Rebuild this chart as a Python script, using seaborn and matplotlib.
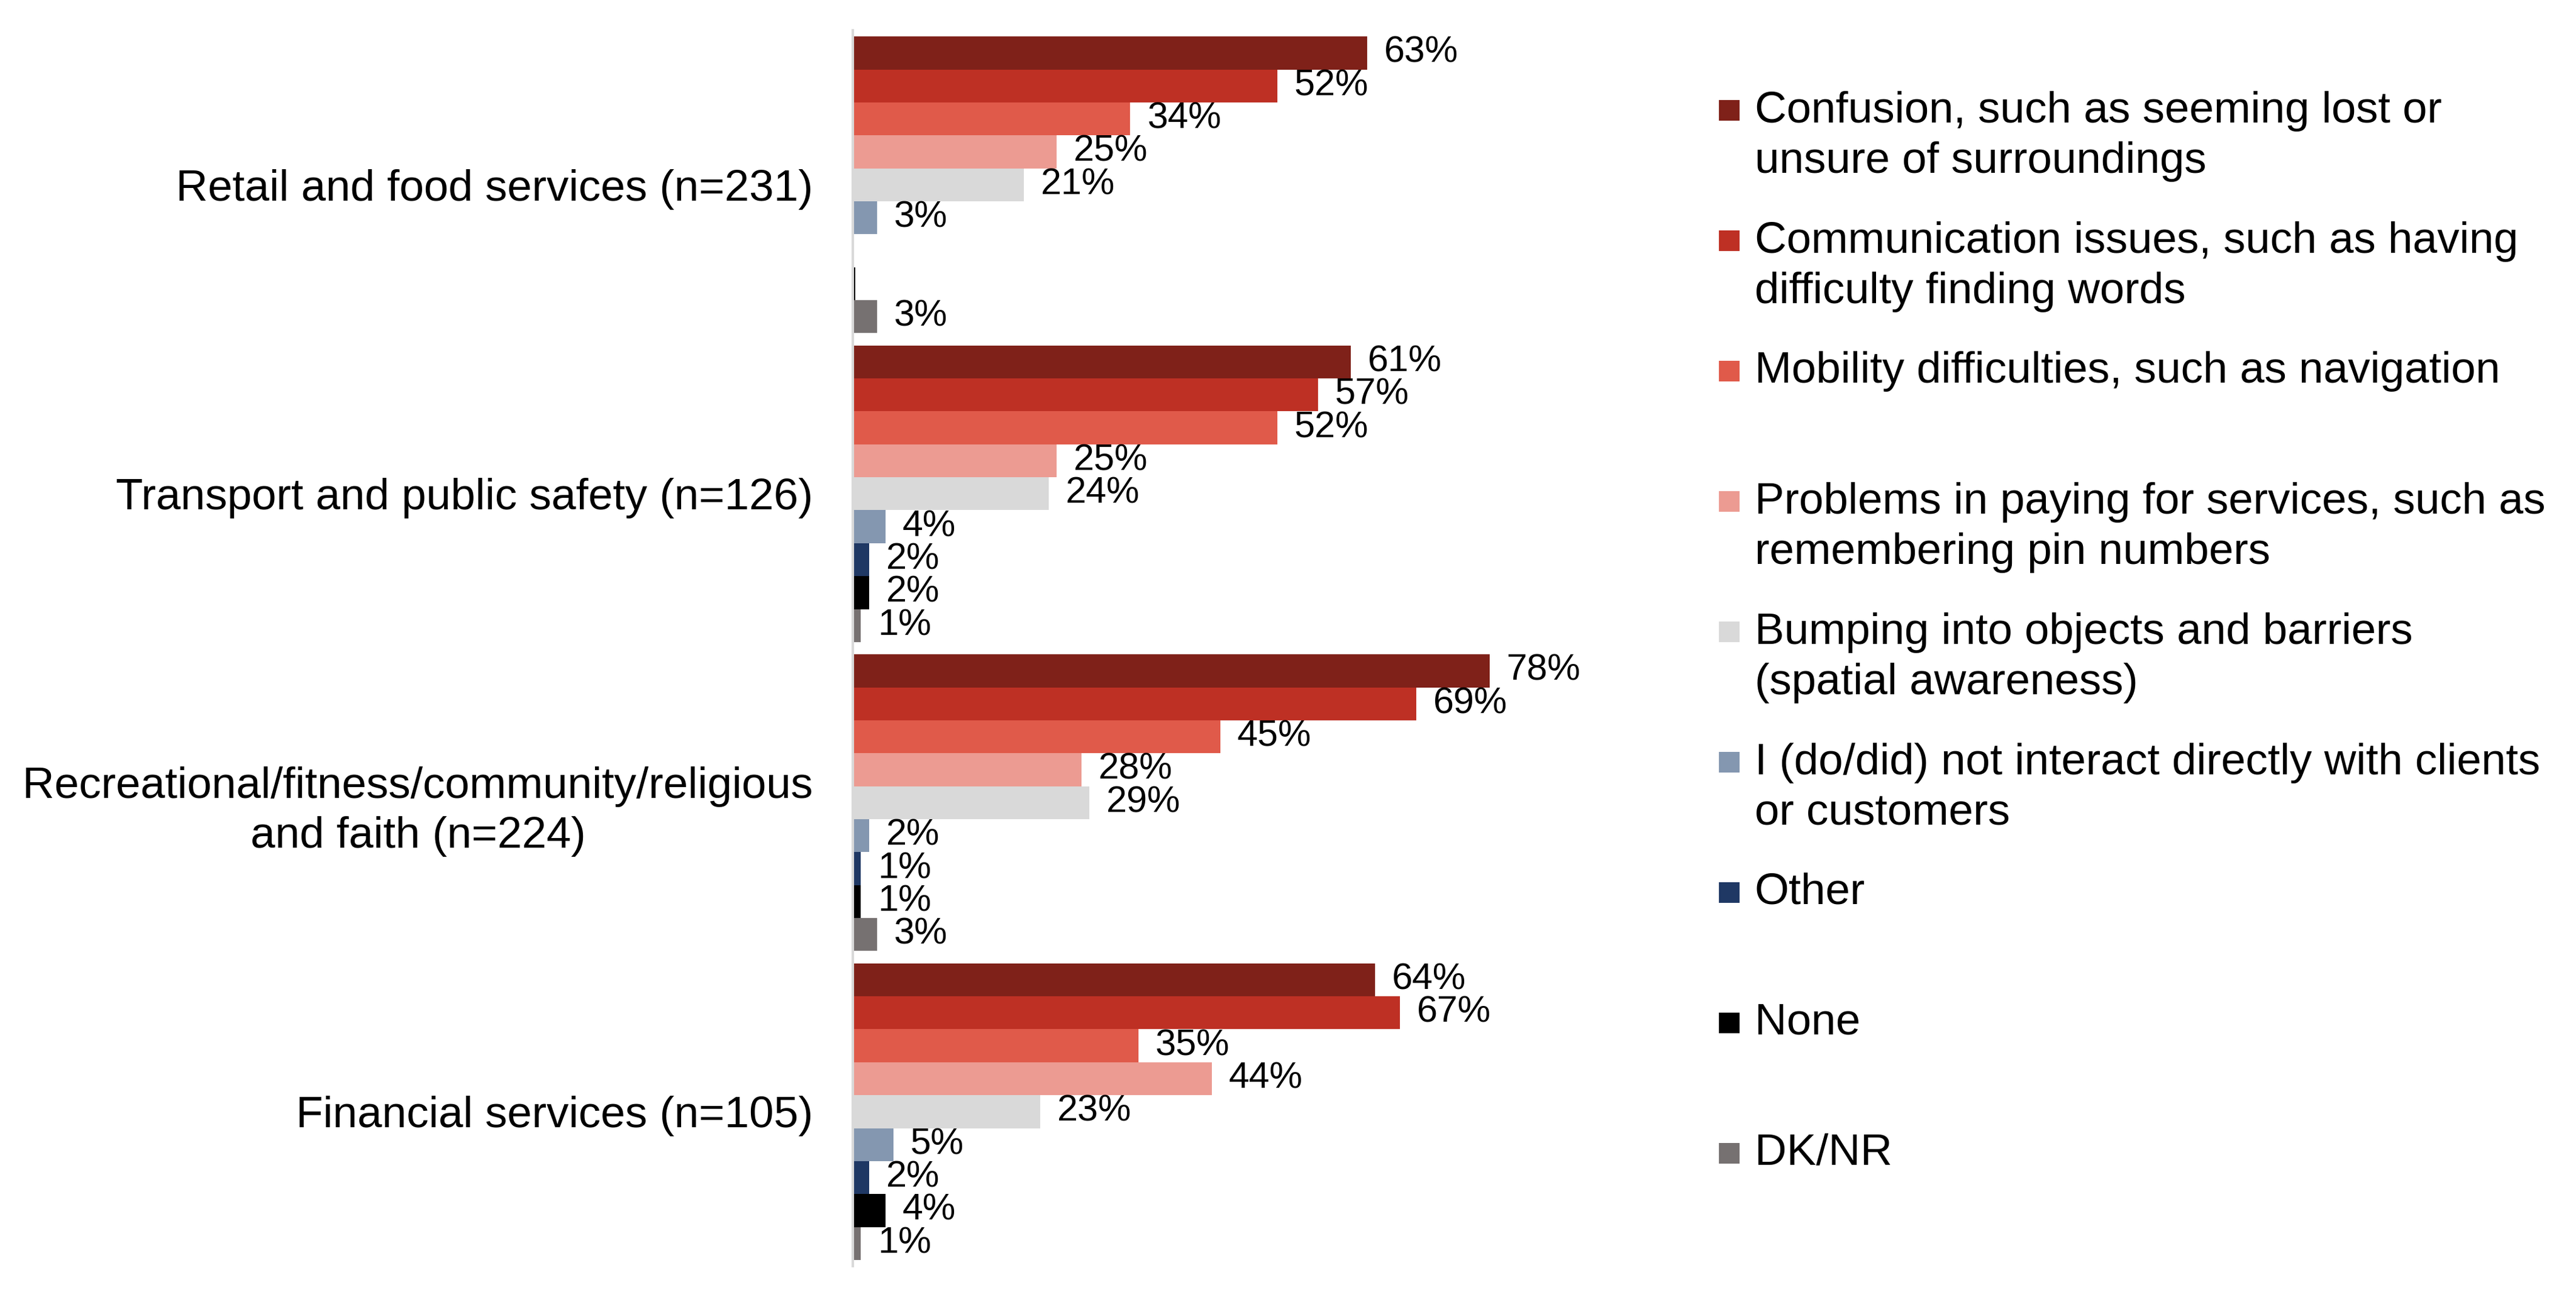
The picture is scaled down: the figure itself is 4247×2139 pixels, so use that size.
import matplotlib
matplotlib.use("Agg")
import matplotlib.pyplot as plt
import matplotlib.patches as mpatches
import seaborn as sns
import pandas as pd

# sectors (y categories, top to bottom)
sectors = [
    "Retail and food services (n=231)",
    "Transport and public safety (n=126)",
    "Recreational/fitness/community/religious\nand faith (n=224)",
    "Financial services (n=105)",
]

# series / legend labels
series = [
    "Confusion, such as seeming lost or\nunsure of surroundings",
    "Communication issues, such as having\ndifficulty finding words",
    "Mobility difficulties, such as navigation",
    "Problems in paying for services, such as\nremembering pin numbers",
    "Bumping into objects and barriers\n(spatial awareness)",
    "I (do/did) not interact directly with clients\nor customers",
    "Other",
    "None",
    "DK/NR",
]

colors = ["#7F2119", "#BE3024", "#E05A4A", "#EC9B92", "#D9D9D9",
          "#8497B0", "#1F3864", "#000000", "#767171"]

# percent values per sector, in series order
retail = [63, 52, 34, 25, 21, 3, 0.2, 0.3, 3]
transport = [61, 57, 52, 25, 24, 4, 2, 2, 1]
recreational = [78, 69, 45, 28, 29, 2, 1, 1, 3]
financial = [64, 67, 35, 44, 23, 5, 2, 4, 1]

rows = []
for sec, vals in zip(sectors, [retail, transport, recreational, financial]):
    for s, v in zip(series, vals):
        rows.append({"sector": sec, "series": s, "value": v})
df = pd.DataFrame(rows)

sns.set_style("white")
plt.rcParams["font.family"] = ["Liberation Sans", "DejaVu Sans"]
plt.rcParams["text.color"] = "black"
plt.rcParams["ytick.color"] = "black"

fig = plt.figure(figsize=(42.47, 21.39), dpi=100)
ax = fig.add_axes([0.331, 0.0238, 0.317, 0.9528])

sns.barplot(data=df, y="sector", x="value", hue="series", order=sectors,
            hue_order=series, palette=colors, orient="h", width=0.96,
            saturation=1, linewidth=0, legend=False, errorbar=None, ax=ax)

for cont, s in zip(ax.containers, series):
    vals = df[df["series"] == s]["value"].tolist()
    labs = [f"{v:.0f}%" if v >= 0.5 else "" for v in vals]
    ax.bar_label(cont, labels=labs, padding=20, fontsize=44, color="black")

ax.set_xlim(0, 100)
ax.set_ylim(3.5, -0.5)
ax.set_xticks([])
ax.set_xlabel("")
ax.set_ylabel("")
ax.tick_params(axis="y", length=0, pad=47, labelsize=52.5, labelcolor="black")
for lab in ax.get_yticklabels():
    lab.set_multialignment("center")
    lab.set_linespacing(1.28)
for side in ["top", "right", "bottom"]:
    ax.spines[side].set_visible(False)
ax.spines["left"].set_color("#D9D9D9")
ax.spines["left"].set_linewidth(3)

# legend, drawn as fixed-pitch entries (first line on the pitch)
y0 = 1 - 182 / 2139
step = 215 / 2139
line_h = 86 / 2139
for i, (s, c) in enumerate(zip(series, colors)):
    y = y0 - i * step
    n = s.count("\n") + 1
    fig.patches.append(mpatches.Rectangle((2834 / 4247, y - 17 / 2139), 34 / 4247, 34 / 2139,
                                          transform=fig.transFigure, facecolor=c, edgecolor="none"))
    fig.text(2893 / 4247, y - (n - 1) * line_h / 2, s, fontsize=52.5, va="center",
             ha="left", linespacing=1.3, color="black")

fig.savefig("out.png", dpi=100)
